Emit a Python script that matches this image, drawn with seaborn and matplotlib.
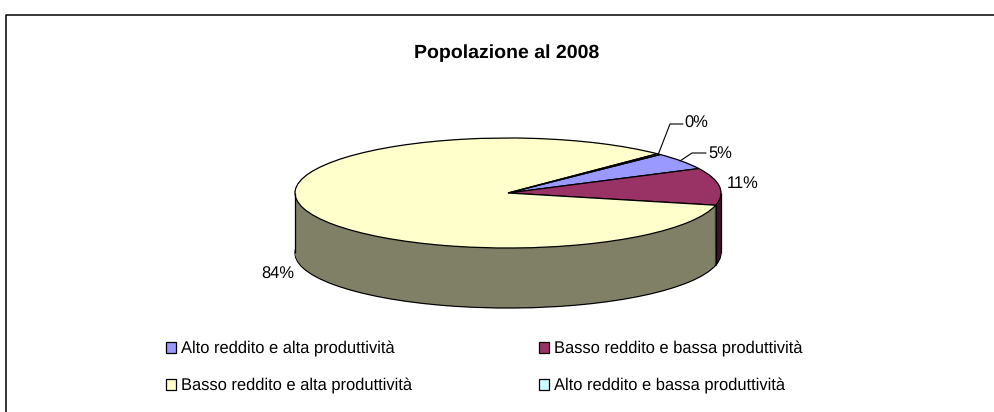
import numpy as np
import matplotlib.pyplot as plt
import seaborn as sns
from matplotlib.lines import Line2D

sns.set_theme(style='white')
plt.rcParams['font.family'] = ['Liberation Sans', 'DejaVu Sans']
plt.rcParams['text.hinting'] = 'no_hinting'

# Dati
categorie = ['Alto reddito e alta produttività', 'Basso reddito e bassa produttività',
             'Basso reddito e alta produttività', 'Alto reddito e bassa produttività']
valori = [5.0, 10.9, 83.8, 0.3]
etichette = ['5%', '11%', '84%', '0%']
colori = ['#9999FF', '#993366', '#FFFFCC', '#CCFFFF']
colori_lato = ['#5C5C99', '#3D1429', '#808066', '#7A9999']

W, H = 995, 412
cx, cy, rx, ry, prof = 508, 193, 213, 55, 60
start = 44.4

fig = plt.figure(figsize=(W/100, H/100), dpi=100)
ax = fig.add_axes([0, 0, 1, 1])

# lato del disco: tante torte sovrapposte
for i, d in enumerate(np.linspace(prof/ry, 0, 60)):
    ec = 'black' if i == 0 else 'none'
    ax.pie(valori, colors=colori_lato, startangle=start, counterclock=False,
           center=(0, -d), radius=1, normalize=True,
           wedgeprops=dict(edgecolor=ec, linewidth=0.9))

wedges, _ = ax.pie(valori, colors=colori, startangle=start, counterclock=False,
                   center=(0, 0), radius=1, normalize=True,
                   wedgeprops=dict(edgecolor='black', linewidth=0.9))

# scala: da pixel a unita' del raggio
ax.set_aspect('auto')
ax.set_xlim((0-cx)/rx, (W-cx)/rx)
ax.set_ylim((cy-H)/ry, cy/ry)
ax.axis('off')

def pix(px, py):
    return (px-cx)/rx, (cy-py)/ry

# bordi verticali del disco
d = prof/ry
ax.plot([-1, -1], [0, -d], color='black', lw=0.9, solid_capstyle='butt')
ax.plot([1, 1], [0, -d], color='black', lw=0.9, solid_capstyle='butt')
a = np.deg2rad(start - 360*(valori[0]+valori[1])/sum(valori))
ax.plot([np.cos(a)]*2, [np.sin(a), np.sin(a)-d], color='black', lw=0.9, solid_capstyle='butt')

# etichette percentuali
fs = 11.9
posiz = [(720, 153), (743, 184), (278, 274), (696.5, 123.5)]
for et, (px, py) in zip(etichette, posiz):
    x, y = pix(px, py)
    ax.text(x, y, et, ha='center', va='center', fontsize=fs, color='black')

# linee guida
for xs, ys in [([658, 670, 683], [155, 124, 124]), ([680, 692, 706], [161, 153, 153])]:
    pts = [pix(a_, b_) for a_, b_ in zip(xs, ys)]
    ax.plot([p[0] for p in pts], [p[1] for p in pts], color='black', lw=0.8)

fig.text(506.5/W, 1-53/H, 'Popolazione al 2008', ha='center', va='center',
         fontsize=14, fontweight='bold', color='black')

# legenda (ordine per righe)
ordine = [0, 2, 1, 3]
fig.legend([wedges[i] for i in ordine], [categorie[i] for i in ordine], ncol=2,
           loc='center left', bbox_to_anchor=(151/W, 1-367.5/H), frameon=False,
           fontsize=fs, handlelength=0.64, handleheight=0.64, handletextpad=0.25,
           columnspacing=7.7, labelspacing=1.27, labelcolor='black')

# cornice: solo lato sinistro e alto, il resto e' tagliato
fig.add_artist(Line2D([6/W, 6/W, 1], [0, 1-15/H, 1-15/H], transform=fig.transFigure,
                      color='black', lw=1.1))

fig.savefig('out.png', dpi=100)
